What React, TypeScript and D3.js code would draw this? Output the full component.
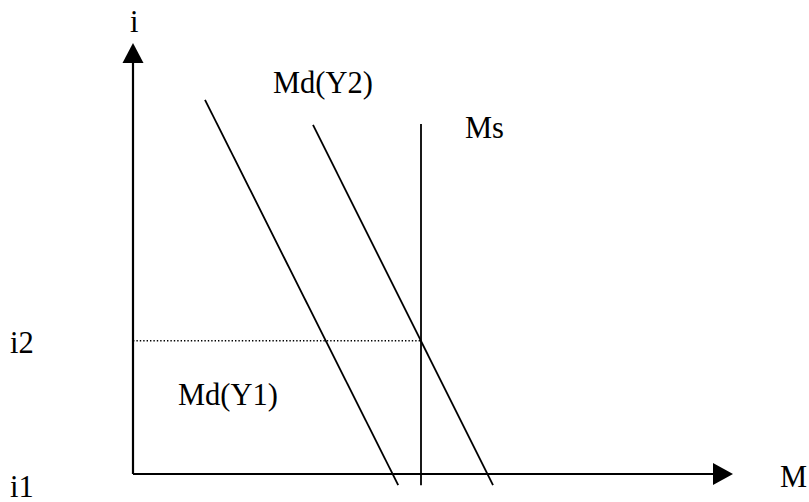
import React from 'react'
import * as d3 from 'd3'

const width = 809;
const height = 502;

// money market diagram, abstract units
const mdY1 = [[1.2, 8.68], [4.42, -0.26]];
const mdY2 = [[3.0, 8.1], [6.0, -0.26]];
const msX = 4.8;
const msTop = 8.12;
const lineBottom = -0.26;
const i2Level = 3.09;
const axisMax = { x: 10, y: 10 };

const xScale = d3.scaleLinear().domain([0, axisMax.x]).range([133, 733]);
const yScale = d3.scaleLinear().domain([0, axisMax.y]).range([474, 43]);

const font = "'Liberation Serif', 'Times New Roman', serif";

function App() {
  const line = d3.line<number[]>().x(d => xScale(d[0])).y(d => yScale(d[1]));
  const x0 = xScale(0), y0 = yScale(0);
  const xTip = xScale(axisMax.x), yTip = yScale(axisMax.y);
  const head = 20;

  return (
    <svg width={width} height={height} style={{ position: 'absolute', left: 0, top: 0 }}>
      <rect width={width} height={height} fill="#fff" />
      {/* axes */}
      <line x1={x0} y1={y0} x2={x0} y2={yTip + head} stroke="#000" strokeWidth={2.2} />
      <line x1={x0} y1={y0} x2={xTip - head} y2={y0} stroke="#000" strokeWidth={2.2} />
      <path d={`M${x0},${yTip} L${x0 - 10.5},${yTip + head} L${x0 + 10.5},${yTip + head} Z`} fill="#000" />
      <path d={`M${xTip},${y0} L${xTip - head},${y0 - 11} L${xTip - head},${y0 + 11} Z`} fill="#000" />

      {/* i2 guide */}
      <line x1={x0} y1={yScale(i2Level)} x2={xScale(msX)} y2={yScale(i2Level)}
        stroke="#000" strokeWidth={1.6} strokeDasharray="1.4,2" />

      {/* curves */}
      <path d={line(mdY1) ?? ''} fill="none" stroke="#000" strokeWidth={1.8} />
      <path d={line(mdY2) ?? ''} fill="none" stroke="#000" strokeWidth={1.8} />
      <line x1={xScale(msX)} y1={yScale(msTop)} x2={xScale(msX)} y2={yScale(lineBottom)} stroke="#000" strokeWidth={1.8} />

      <g fontFamily={font} fontSize={30.5} fill="#000">
        <text x={130} y={32}>i</text>
        <text x={780} y={487}>M</text>
        <text x={10} y={353}>i2</text>
        <text x={10} y={497}>i1</text>
        <text x={273} y={93}>Md(Y2)</text>
        <text x={465} y={138}>Ms</text>
        <text x={178} y={405}>Md(Y1)</text>
      </g>
    </svg>
  );
}

export default App
